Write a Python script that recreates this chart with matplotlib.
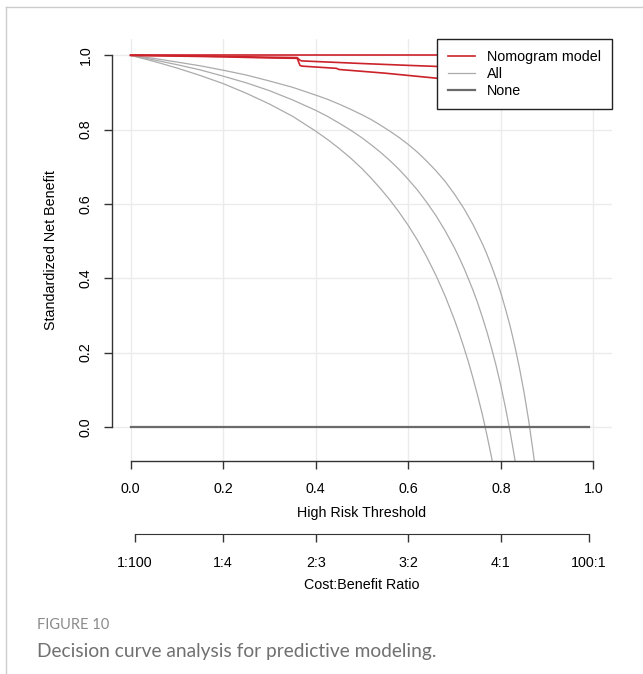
import matplotlib
matplotlib.use("Agg")
import matplotlib.pyplot as plt
from matplotlib.lines import Line2D

plt.rcParams['font.family'] = ['Liberation Sans', 'DejaVu Sans']

# "All" curves (treat everyone)
all1_x = [0.0, 0.05, 0.10, 0.15, 0.20, 0.25, 0.30, 0.35, 0.40, 0.425, 0.45, 0.475, 0.50,
          0.52, 0.54, 0.56, 0.58, 0.60, 0.62, 0.64, 0.66, 0.68, 0.70, 0.71, 0.72, 0.73,
          0.74, 0.75, 0.76, 0.77, 0.78, 0.781]
all1_y = [1.0, 0.984, 0.966, 0.946, 0.924, 0.898, 0.869, 0.836, 0.796, 0.774, 0.750, 0.724, 0.695,
          0.669, 0.641, 0.611, 0.578, 0.542, 0.502, 0.457, 0.407, 0.351, 0.287, 0.252, 0.214, 0.174,
          0.130, 0.083, 0.033, -0.023, -0.083, -0.090]
all2_x = [0.0, 0.05, 0.10, 0.15, 0.20, 0.25, 0.30, 0.35, 0.40, 0.425, 0.45, 0.475, 0.50,
          0.52, 0.54, 0.56, 0.58, 0.60, 0.62, 0.64, 0.66, 0.68, 0.70, 0.71, 0.72, 0.73,
          0.74, 0.75, 0.76, 0.77, 0.78, 0.79, 0.80, 0.81, 0.82, 0.83, 0.831]
all2_y = [1.0, 0.988, 0.975, 0.961, 0.944, 0.926, 0.905, 0.880, 0.852, 0.836, 0.818, 0.799, 0.778,
          0.759, 0.739, 0.717, 0.693, 0.666, 0.637, 0.604, 0.568, 0.527, 0.481, 0.455, 0.428, 0.398,
          0.367, 0.333, 0.295, 0.255, 0.211, 0.163, 0.110, 0.051, -0.014, -0.086, -0.094]
all3_x = [0.0, 0.05, 0.10, 0.15, 0.20, 0.25, 0.30, 0.35, 0.40, 0.425, 0.45, 0.475, 0.50,
          0.52, 0.54, 0.56, 0.58, 0.60, 0.62, 0.64, 0.66, 0.68, 0.70, 0.72, 0.74, 0.76,
          0.77, 0.78, 0.79, 0.80, 0.81, 0.82, 0.83, 0.84, 0.85, 0.86, 0.87, 0.872]
all3_y = [1.0, 0.992, 0.982, 0.972, 0.960, 0.947, 0.931, 0.914, 0.893, 0.882, 0.869, 0.855, 0.840,
          0.827, 0.812, 0.796, 0.779, 0.760, 0.739, 0.715, 0.689, 0.660, 0.626, 0.588, 0.544, 0.493,
          0.464, 0.432, 0.398, 0.360, 0.317, 0.271, 0.218, 0.159, 0.093, 0.017, -0.071, -0.091]

# Nomogram model curves
nomo1_x = [0.0, 0.3, 0.6, 0.8]
nomo1_y = [1.0, 1.0, 1.0, 1.0]
nomo2_x = [0.0, 0.1, 0.2, 0.3, 0.36, 0.366, 0.37, 0.5, 0.6, 0.665, 0.75]
nomo2_y = [1.0, 0.999, 0.997, 0.995, 0.994, 0.987, 0.985, 0.978, 0.973, 0.970, 0.966]
nomo3_x = [0.0, 0.1, 0.2, 0.3, 0.36, 0.366, 0.37, 0.445, 0.45, 0.55, 0.665, 0.75]
nomo3_y = [1.0, 0.998, 0.996, 0.993, 0.992, 0.973, 0.971, 0.965, 0.962, 0.952, 0.938, 0.928]

# treat none
none_x = [0.0, 0.99]
none_y = [0.0, 0.0]

xticks = [0.0, 0.2, 0.4, 0.6, 0.8, 1.0]
yticks = [0.0, 0.2, 0.4, 0.6, 0.8, 1.0]
cb_ticks = [0.01, 0.2, 0.4, 0.6, 0.8, 0.99]
cb_labels = ['1:100', '1:4', '2:3', '3:2', '4:1', '100:1']

RED = '#cc2229'
LIGHT = '#ababab'
DARK = '#6a6a6a'
FS = 10.3

W, H = 643, 674
fig = plt.figure(figsize=(W / 100, H / 100), dpi=100)
ax = fig.add_axes([112 / W, 1 - 461 / H, 500 / W, (461 - 39) / H])

for xs, ys in [(all1_x, all1_y), (all2_x, all2_y), (all3_x, all3_y)]:
    ax.plot(xs, ys, color=LIGHT, lw=0.9, zorder=2)
ax.plot(none_x, none_y, color=DARK, lw=1.6, zorder=3)
for xs, ys in [(nomo1_x, nomo1_y), (nomo2_x, nomo2_y), (nomo3_x, nomo3_y)]:
    ax.plot(xs, ys, color=RED, lw=1.2, zorder=4)

ax.set_xlim(-0.04, 1.04)
ax.set_ylim(-0.092, 1.044)
for x in xticks:
    ax.axvline(x, color='#ebebeb', lw=1, zorder=0)
for y in yticks:
    ax.axhline(y, color='#ebebeb', lw=1, zorder=0)

for s in ['top', 'right']:
    ax.spines[s].set_visible(False)
ax.spines['left'].set_bounds(0, 1)
ax.spines['bottom'].set_bounds(0, 1)
for s in ['left', 'bottom']:
    ax.spines[s].set_color('#333333')
    ax.spines[s].set_linewidth(1)

ax.set_xticks(xticks)
ax.set_xticklabels(['%.1f' % v for v in xticks])
ax.set_yticks(yticks)
ax.set_yticklabels(['%.1f' % v for v in yticks], rotation=90, va='center')
ax.tick_params(axis='both', length=6, width=1, color='#333333', labelsize=FS, pad=8)
ax.tick_params(axis='x', pad=9)
ax.set_xlabel('High Risk Threshold', fontsize=FS, labelpad=7)

fig.text(51 / W, 1 - 250 / H, 'Standardized Net Benefit', rotation=90,
         ha='center', va='center', fontsize=FS)

# cost:benefit ratio axis
sec = ax.secondary_xaxis(-0.172)
sec.set_xticks(cb_ticks)
sec.set_xticklabels(cb_labels)
sec.spines['bottom'].set_bounds(0.01, 0.99)
sec.spines['bottom'].set_color('#333333')
sec.tick_params(length=6, width=1, color='#333333', labelsize=FS, pad=10)
sec.set_xlabel('Cost:Benefit Ratio', fontsize=FS, labelpad=6)

handles = [Line2D([], [], color=RED, lw=1.2),
           Line2D([], [], color=LIGHT, lw=0.9),
           Line2D([], [], color=DARK, lw=1.6)]
leg = ax.legend(handles, ['Nomogram model', 'All', 'None'], loc='upper right',
                bbox_to_anchor=(1.0, 1.0), borderaxespad=0, fontsize=FS,
                fancybox=False, framealpha=1, edgecolor='#222222',
                handlelength=1.9, handletextpad=0.85, labelspacing=0.22, borderpad=0.75)
leg.get_frame().set_linewidth(1)
leg.set_zorder(10)

# page frame and caption
fig.add_artist(Line2D([6 / W, 6 / W], [0, 1 - 7 / H], color='#cccccc', lw=1))
fig.add_artist(Line2D([6 / W, 1], [1 - 7 / H, 1 - 7 / H], color='#cccccc', lw=1))
fig.text(37 / W, 1 - 625 / H, 'FIGURE 10', family=['Lato', 'DejaVu Sans'],
         fontsize=10.5, color='#8a8a8a', ha='left', va='center')
fig.text(37 / W, 1 - 652 / H, 'Decision curve analysis for predictive modeling.',
         family=['Lato', 'DejaVu Sans'], fontsize=13.8, color='#707070', ha='left', va='center')

fig.savefig('out.png', dpi=100)
